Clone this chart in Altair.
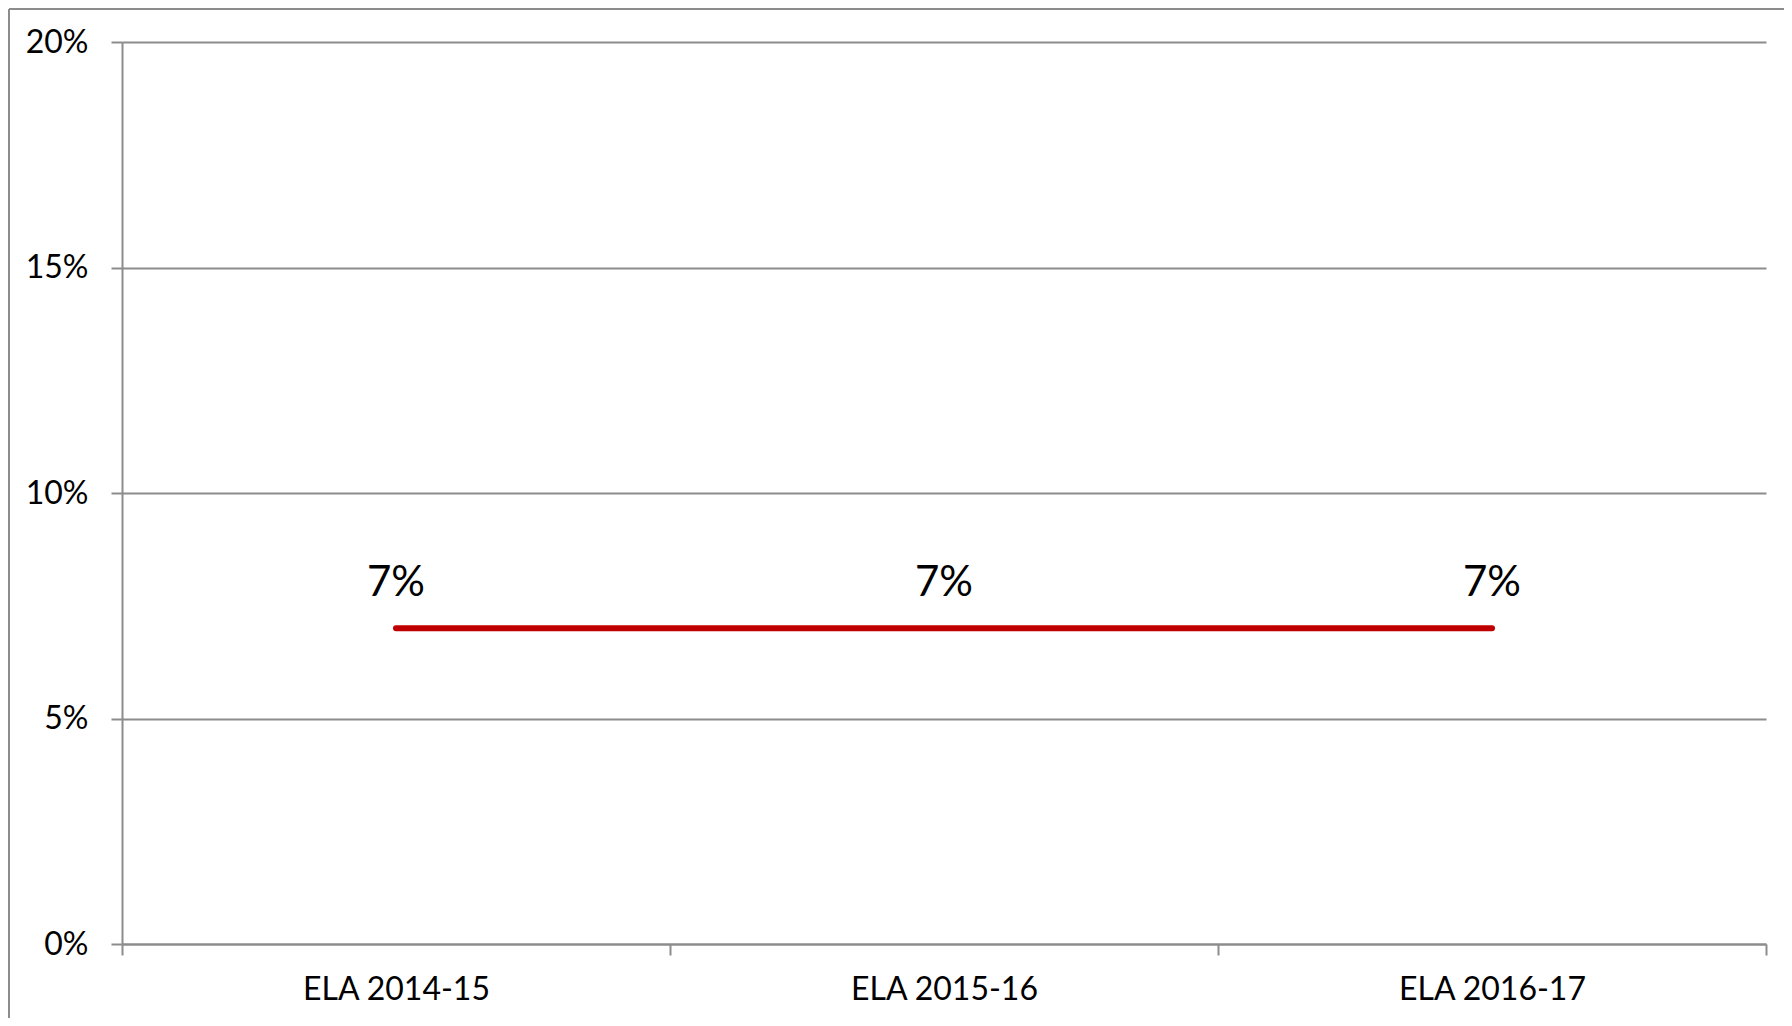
import altair as alt
import pandas as pd

categories = ["ELA 2014-15", "ELA 2015-16", "ELA 2016-17"]
values = [0.07, 0.07, 0.07]
y_ticks = [0, 0.05, 0.10, 0.15, 0.20]

df = pd.DataFrame({"cat": categories, "val": values})

GRAY = "#8C8C8C"
FONT = "Lato"
W, H = 1644, 902
PB = 74

xenc = alt.X(
    "cat:N",
    sort=categories,
    bandPosition=0.5,
    scale=alt.Scale(type="band", paddingInner=0, paddingOuter=0),
    axis=alt.Axis(
        title=None,
        tickBand="extent",
        labelAngle=0,
        labelLimit=0,
        labelFont=FONT,
        labelFontSize=32,
        labelColor="black",
        labelPadding=19,
        tickSize=11,
        tickColor=GRAY,
        tickWidth=2,
        domainColor=GRAY,
        domainWidth=2,
        grid=False,
    ),
)
yenc = alt.Y(
    "val:Q",
    scale=alt.Scale(domain=[0, 0.2], nice=False),
    axis=alt.Axis(
        title=None,
        values=y_ticks,
        format=".0%",
        labelFont=FONT,
        labelFontSize=32,
        labelColor="black",
        labelPadding=23,
        tickSize=11,
        tickColor=GRAY,
        tickWidth=2,
        domainColor=GRAY,
        domainWidth=2,
        grid=True,
        gridColor=GRAY,
        gridWidth=2,
    ),
)

base = alt.Chart(df)

line = base.mark_line(color="#C00000", strokeWidth=6, strokeCap="round").encode(x=xenc, y=yenc)

labels = base.mark_text(
    font=FONT, fontSize=42, color="black", baseline="alphabetic", align="center", dy=-32
).encode(
    x=alt.X("cat:N", sort=categories, bandPosition=0.5),
    y="val:Q",
    text=alt.Text("val:Q", format=".0%"),
)

border_top = base.mark_rule(color=GRAY, strokeWidth=2, clip=False).encode(
    x=alt.value(-113), x2=alt.value(W + 18), y=alt.value(-33)
)
border_left = base.mark_rule(color=GRAY, strokeWidth=2, clip=False).encode(
    x=alt.value(-113), y=alt.value(-33), y2=alt.value(H + PB)
)

chart = (
    alt.layer(line, labels, border_top, border_left)
    .properties(
        width=W,
        height=H,
        autosize=alt.AutoSizeParams(type="none"),
        padding={"left": 114, "top": 34, "right": 18, "bottom": PB},
        background="white",
    )
    .configure_view(stroke=None)
)

chart.save("out.html", embed_options={"renderer": "svg", "actions": False})
